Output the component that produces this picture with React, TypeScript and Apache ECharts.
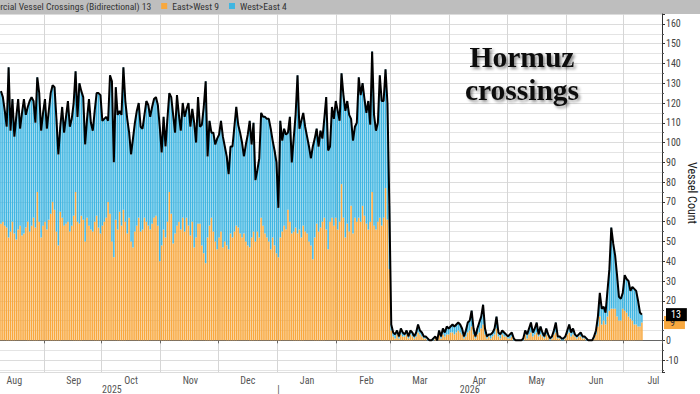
import React, { useEffect, useRef } from 'react';
import * as echarts from 'echarts';

// ---------- data ----------
const START_DATE = '2025-08-09';
const DAY_COUNT = 346; // Aug 9 2025 .. Jul 20 2026 (visible window)
const MONTH_NAMES = ['Jan', 'Feb', 'Mar', 'Apr', 'May', 'Jun', 'Jul', 'Aug', 'Sep', 'Oct', 'Nov', 'Dec'];
const YEAR_MARKS: Record<string, string> = { '2025-10-06': '2025', '2026-01-01': '|', '2026-04-11': '2026' };

const TOTAL_NAME = 'Commercial Vessel Crossings (Bidirectional)';
const EAST_NAME = 'East>West';
const WEST_NAME = 'West>East';

// Daily total crossings (black line), Aug 9 2025 .. Jul 10 2026
const totalCrossings = [
  126, 123, 116, 108, 138, 106, 122, 103, 113, 122,
  107, 115, 122, 114, 118, 121, 123, 121, 110, 133,
  125, 106, 115, 122, 107, 116, 125, 129, 128, 112,
  94, 108, 118, 105, 113, 121, 108, 112, 120, 136,
  113, 130, 126, 123, 99, 112, 122, 110, 106, 116,
  125, 125, 124, 111, 112, 113, 111, 134, 131, 90,
  128, 114, 116, 114, 138, 121, 112, 105, 94, 102,
  110, 116, 120, 108, 107, 114, 121, 119, 113, 118,
  122, 123, 119, 108, 95, 113, 98, 112, 125, 123,
  114, 105, 124, 114, 106, 120, 113, 117, 120, 108,
  117, 110, 100, 123,
  108, 109, 118, 131, 93, 111, 105, 105, 99, 102,
  104, 111, 103, 98, 93, 84, 98, 98, 108, 118,
  109, 105, 100, 93, 99, 104, 111, 99, 110, 81,
  86, 92, 115, 113, 113, 112, 112, 107, 101, 96,
  90, 67, 111, 101, 107, 104, 105, 113, 90, 102,
  114, 134, 107, 111, 115, 108, 103, 98, 92, 98,
  102, 107, 98, 106, 102, 112, 123, 96,
  98, 118, 112, 121, 116, 111, 135, 124, 116, 121,
  114, 112, 101, 108, 110, 133, 124, 130, 122, 115,
  121, 109, 146, 114, 106, 110, 134, 121, 121, 137,
  120, 68,
  8, 4, 3, 5, 2, 6, 4, 3, 5, 2,
  5, 4, 2, 4, 8, 5, 4, 2, 2, 1,
  0, 0, 1, 2, 0, 5, 2, 6, 4, 7,
  6, 7, 8, 7, 8, 9, 8, 6, 2, 5,
  9, 10, 15, 6, 2, 6, 9, 12, 18, 6,
  2, 3, 3, 4, 6, 12, 4, 3, 5, 4,
  3, 2, 3, 4, 1, 0, 0, 0, 0, 1,
  5, 3, 6, 9, 4, 6, 9, 3, 7, 4,
  2, 6, 3, 1, 2, 5, 9, 2, 2, 1,
  1, 2, 5, 8, 4, 6, 3, 2, 3, 4,
  2, 2, 1, 0, 0, 0, 2, 5, 12, 24,
  16, 17, 14, 25, 36, 57, 49, 43, 33, 22,
  21, 24, 33, 31, 30, 25, 27, 26, 25, 20,
  14, 13,
];

// Daily East>West crossings (orange bars)
const eastWest = [
  59, 60, 58, 57, 52, 55, 60, 54, 51, 56,
  58, 53, 54, 57, 60, 55, 58, 62, 57, 75,
  60, 52, 58, 60, 56, 61, 64, 70, 66, 55,
  48, 65, 62, 58, 59, 60, 55, 58, 63, 75,
  60, 59, 63, 61, 50, 62, 58, 56, 55, 60,
  63, 57, 54, 58, 60, 62, 70, 64, 50, 42,
  61, 56, 65, 58, 66, 60, 54, 62, 50, 47,
  55, 58, 62, 55, 56, 62, 60, 58, 56, 59,
  62, 63, 58, 40, 48, 56, 52, 60, 75, 64,
  49, 54, 58, 60, 56, 62, 55, 62, 58, 53,
  60, 47, 52, 59,
  59, 48, 44, 39, 52, 58, 62, 55, 50, 46,
  52, 55, 47, 50, 48, 46, 54, 52, 55, 58,
  57, 54, 52, 54, 50, 48, 47, 52, 55, 50,
  55, 52, 62, 58, 54, 52, 50, 46, 52, 48,
  44, 42, 52, 55, 58, 56, 66, 60, 54, 55,
  57, 54, 56, 52, 58, 55, 54, 50, 48, 41,
  52, 59, 55, 57, 60, 62, 56, 46,
  60, 62, 58, 62, 56, 60, 79, 62, 52, 59,
  55, 68, 54, 62, 60, 62, 60, 68, 63, 59,
  56, 60, 75, 58, 56, 60, 62, 58, 62, 77,
  61, 36,
  5, 2, 1, 3, 1, 3, 2, 2, 3, 1,
  3, 2, 1, 2, 4, 3, 2, 1, 1, 0,
  0, 0, 0, 1, 0, 3, 1, 3, 2, 3,
  3, 4, 4, 3, 4, 5, 4, 3, 1, 2,
  4, 5, 7, 3, 1, 3, 4, 6, 8, 3,
  1, 2, 1, 2, 3, 6, 2, 1, 3, 2,
  2, 1, 1, 2, 0, 0, 0, 0, 0, 0,
  3, 1, 3, 4, 2, 3, 4, 2, 3, 2,
  1, 3, 2, 0, 1, 3, 4, 1, 1, 0,
  0, 1, 3, 4, 2, 3, 2, 1, 2, 2,
  1, 1, 0, 0, 0, 0, 1, 3, 7, 12,
  8, 10, 8, 12, 15, 16, 16, 16, 12, 10,
  10, 16, 15, 14, 12, 11, 10, 8, 8, 7,
  7, 9,
];

// West>East is the remainder of the bidirectional total
const westEast = totalCrossings.map((t, i) => t - eastWest[i]);

// ---------- helpers ----------
function buildCategories(): string[] {
  const [y, m, d] = START_DATE.split('-').map(Number);
  const base = Date.UTC(y, m - 1, d);
  const out: string[] = [];
  for (let i = 0; i < DAY_COUNT; i++) {
    out.push(new Date(base + i * 86400000).toISOString().slice(0, 10));
  }
  return out;
}

const FONT = '"Liberation Sans Narrow", "Roboto Condensed", Roboto, "Liberation Sans", sans-serif';

export default function App() {
  const ref = useRef<HTMLDivElement>(null);

  useEffect(() => {
    if (!ref.current) return;
    const chart = echarts.init(ref.current, null, { renderer: 'svg' });
    const categories = buildCategories();
    const last = (a: number[]) => a[a.length - 1];
    const lastTotal = last(totalCrossings);
    const lastValues: Record<string, number> = {
      [TOTAL_NAME]: lastTotal,
      [EAST_NAME]: last(eastWest),
      [WEST_NAME]: last(westEast),
    };

    const option: any = {
      animation: false,
      backgroundColor: '#ffffff',
      grid: { left: 0, right: 38, top: 14, bottom: 22, containLabel: false, outerBoundsMode: 'none' },
      legend: {
        data: [TOTAL_NAME, EAST_NAME, WEST_NAME],
        left: -40,
        top: 1,
        padding: 0,
        icon: 'rect',
        itemWidth: 6,
        itemHeight: 6,
        itemGap: 10,
        selectedMode: false,
        textStyle: { fontFamily: FONT, fontSize: 9.6, color: '#333' },
        formatter: (name: string) => `${name} ${lastValues[name]}`,
        z: 10,
      },
      graphic: [
        { type: 'rect', z: 0, silent: true, shape: { x: 0, y: 0, width: 700, height: 14 }, style: { fill: '#bebebe' } },
        {
          type: 'text',
          z: 20,
          silent: true,
          x: 522,
          y: 40,
          style: {
            text: 'Hormuz\ncrossings',
            font: 'bold 29.5px "Liberation Serif", "DejaVu Serif", serif',
            fill: '#111',
            textAlign: 'center',
            textVerticalAlign: 'top',
            lineHeight: 33,
            textShadowColor: 'rgba(0,0,0,0.45)',
            textShadowBlur: 3,
            textShadowOffsetX: 2,
            textShadowOffsetY: 2,
          },
        },
      ],
      xAxis: [
        {
          type: 'category',
          data: categories,
          boundaryGap: true,
          axisLine: { show: true, lineStyle: { color: '#666', width: 1 } },
          axisTick: {
            show: true,
            length: 3,
            interval: (_i: number, v: string) => v.endsWith('-01'),
            lineStyle: { color: '#666' },
          },
          splitLine: {
            show: true,
            interval: (_i: number, v: string) => v.endsWith('-01'),
            lineStyle: { color: '#d6d6d6', width: 1 },
          },
          axisLabel: {
            interval: (_i: number, v: string) => v.endsWith('-16'),
            formatter: (v: string) => MONTH_NAMES[Number(v.slice(5, 7)) - 1],
            margin: 3,
            fontFamily: FONT,
            fontSize: 10,
            color: '#555',
          },
        },
        {
          type: 'category',
          data: categories,
          position: 'bottom',
          offset: 12,
          boundaryGap: true,
          axisLine: { show: false },
          axisTick: { show: false },
          splitLine: { show: false },
          axisLabel: {
            interval: (_i: number, v: string) => YEAR_MARKS[v] !== undefined,
            formatter: (v: string) => YEAR_MARKS[v] ?? '',
            margin: 0,
            fontFamily: FONT,
            fontSize: 10,
            color: '#555',
          },
        },
      ],
      yAxis: {
        type: 'value',
        position: 'right',
        min: -16,
        max: 165,
        splitNumber: 18,
        minInterval: 10,
        maxInterval: 10,
        name: 'Vessel Count',
        nameLocation: 'middle',
        nameRotate: -90,
        nameGap: 24,
        nameMoveOverlap: false,
        nameTextStyle: { fontFamily: FONT, fontSize: 12, color: '#222' },
        axisLine: { show: true, lineStyle: { color: '#333', width: 1 } },
        axisTick: { show: true, inside: false, length: 3, lineStyle: { color: '#333' } },
        minorTick: { show: true, splitNumber: 2, length: 2, lineStyle: { color: '#555' } },
        axisLabel: {
          showMinLabel: false,
          showMaxLabel: false,
          margin: 4,
          fontFamily: FONT,
          fontSize: 10,
          color: '#444',
          // the tick label hidden behind the last-value tag
          formatter: (v: number) => (Math.abs(v - lastTotal) < 6 ? '' : String(v)),
        },
        splitLine: { show: true, lineStyle: { color: '#dcdcdc', width: 1 } },
        minorSplitLine: { show: true, lineStyle: { color: '#e4e4e4', width: 1 } },
      },
      series: [
        {
          name: EAST_NAME,
          type: 'bar',
          stack: 'dir',
          data: eastWest,
          barCategoryGap: '22%',
          itemStyle: { color: '#f8a83e' },
          z: 2,
          markLine: {
            silent: true,
            symbol: ['none', 'none'],
            lineStyle: { color: 'rgba(0,0,0,0)', width: 0 },
            data: [{ yAxis: last(eastWest) }],
            label: {
              show: true,
              position: 'end',
              distance: 2,
              opacity: 1,
              formatter: String(last(eastWest)),
              color: '#333',
              backgroundColor: '#f8a83e',
              padding: [2, 10, 1, 6],
              fontFamily: FONT,
              fontSize: 10,
            },
          },
        },
        {
          name: WEST_NAME,
          type: 'bar',
          stack: 'dir',
          data: westEast,
          barCategoryGap: '22%',
          itemStyle: { color: '#40b6e2' },
          z: 2,
        },
        {
          name: TOTAL_NAME,
          type: 'line',
          data: totalCrossings,
          symbol: 'none',
          lineStyle: { color: '#000', width: 2 },
          itemStyle: { color: '#000' },
          z: 5,
          markLine: {
            silent: true,
            symbol: ['none', 'none'],
            lineStyle: { color: 'rgba(0,0,0,0)', width: 0 },
            data: [{ yAxis: lastTotal }],
            label: {
              show: true,
              position: 'end',
              distance: 4,
              opacity: 1,
              formatter: String(lastTotal),
              color: '#fff',
              backgroundColor: '#000',
              padding: [2, 6, 1, 5],
              fontFamily: FONT,
              fontSize: 10,
            },
          },
        },
      ],
    };

    chart.setOption(option);
    return () => chart.dispose();
  }, []);

  return <div ref={ref} style={{ position: 'absolute', left: 0, top: 0, width: 700, height: 394 }} />;
}
